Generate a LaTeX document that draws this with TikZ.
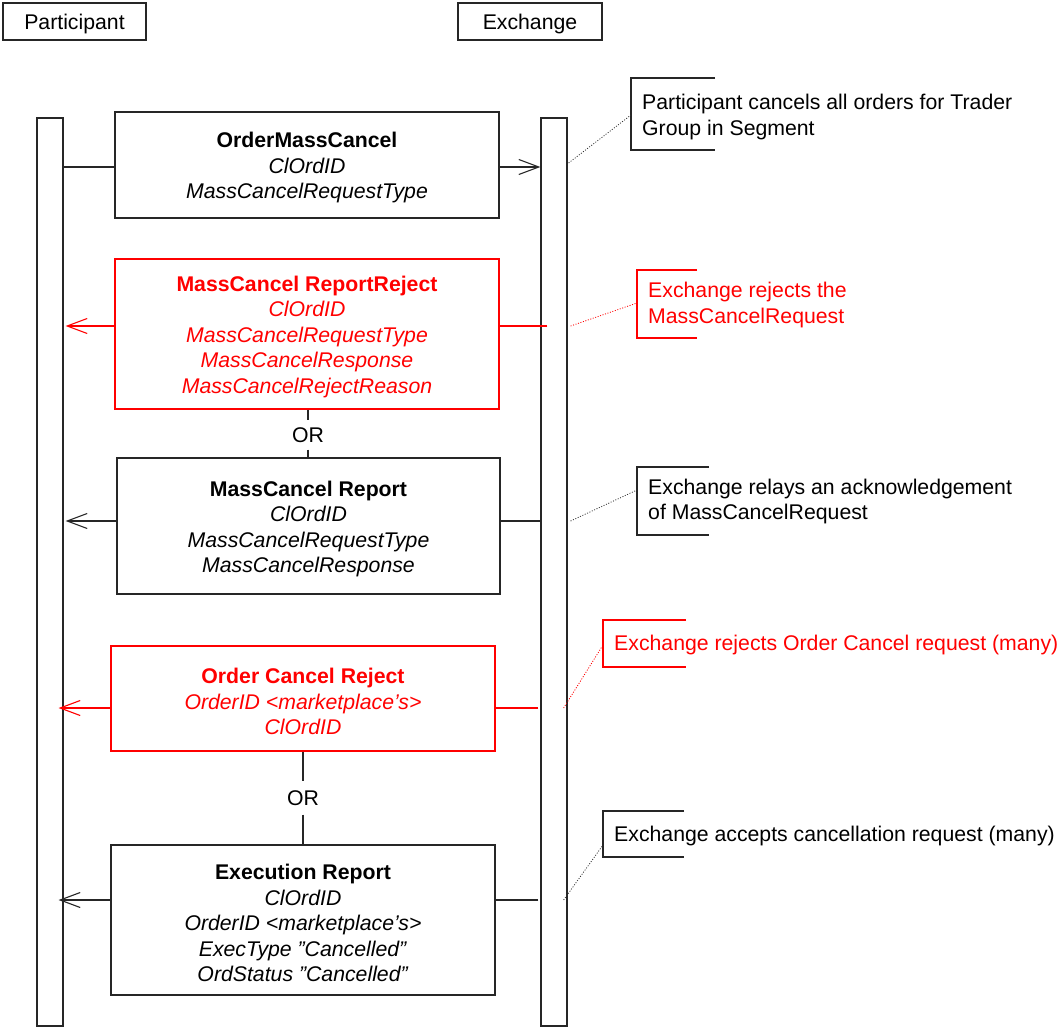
\documentclass[tikz,border=0pt]{standalone}
\usepackage{fontspec}
\setmainfont{Liberation Sans}
\usetikzlibrary{arrows.meta,calc}
\begin{document}
\begin{tikzpicture}[x=1pt,y=-1pt,
  every node/.style={font=\fontsize{21.25}{25.5}\selectfont, inner sep=0pt},
  ln/.style={line width=1.2pt, draw=black!85},
  rln/.style={line width=1.2pt, draw=red},
  hdr/.style={ln, draw, minimum height=37pt},
  life/.style={ln, draw, minimum width=26pt, minimum height=908pt},
  msg/.style={ln, draw, minimum width=384pt},
  rmsg/.style={rln, draw, minimum width=384pt},
  body/.style={align=center, yshift=-3pt},
  rbody/.style={body, text=red},
  ortext/.style={inner ysep=7pt},
  note/.style={align=left, anchor=west},
  opentip/.style={-{Straight Barb[length=20pt,width=15pt,line width=1.1pt]}},
  link/.style={line width=0.8pt, dash pattern=on 1pt off 1.6pt}
]
\useasboundingbox (0,0) rectangle (1059,1027);

% actors
\node[hdr, minimum width=143pt] (phead) at (74.5,21.5) {};
\node[body] (pname) at (phead) {Participant};
\node[hdr, minimum width=144pt] (ehead) at (530,21.5) {};
\node[body] (ename) at (ehead) {Exchange};

% lifelines
\node[life] (plife) at (50,572) {};
\node[life] (elife) at (554,572) {};

% messages
\node[msg, minimum height=106pt] (m1) at (307,165) {};
\node[body] (t1) at (m1)
  {\textbf{OrderMassCancel}\\\textit{ClOrdID}\\\textit{MassCancelRequestType}};
\node[rmsg, minimum height=150pt] (m2) at (307,334) {};
\node[rbody] (t2) at (m2)
  {\textbf{MassCancel ReportReject}\\\textit{ClOrdID}\\\textit{MassCancelRequestType}\\\textit{MassCancelResponse}\\\textit{MassCancelRejectReason}};
\node[msg, minimum width=383pt, minimum height=136pt] (m3) at (308.5,526) {};
\node[body] (t3) at (m3)
  {\textbf{MassCancel Report}\\\textit{ClOrdID}\\\textit{MassCancelRequestType}\\\textit{MassCancelResponse}};
\node[rmsg, minimum height=105pt] (m4) at (303,698.5) {};
\node[rbody] (t4) at (m4)
  {\textbf{Order Cancel Reject}\\\textit{OrderID <marketplace’s>}\\\textit{ClOrdID}};
\node[msg, minimum height=150pt] (m5) at (303,920) {};
\node[body] (t5) at (m5)
  {\textbf{Execution Report}\\\textit{ClOrdID}\\\textit{OrderID <marketplace’s>}\\\textit{ExecType ”Cancelled”}\\\textit{OrdStatus ”Cancelled”}};

% alternatives
\node[ortext] (or1) at (308,435) {OR};
\node[ortext, inner ysep=9pt] (or2) at (303,798) {OR};
\draw[ln] (m2.south -| or1) -- (or1.north);
\draw[ln] (or1.south) -- (m3.north -| or1);
\draw[ln] (m4.south -| or2) -- (or2.north);
\draw[ln] (or2.south) -- (m5.north -| or2);

% message connectors
\coordinate (y1) at (0,167);
\coordinate (y2) at (0,326);
\coordinate (y3) at (0,521);
\coordinate (y4) at (0,708);
\coordinate (y5) at (0,900);

\draw[ln] (plife.east |- y1) -- (m1.west |- y1);
\draw[ln, opentip] (m1.east |- y1) -- (elife.west |- y1);

\draw[rln] ($(elife.west |- y2)+(7,0)$) -- (m2.east |- y2);
\draw[rln, opentip] (m2.west |- y2) -- ($(plife.east |- y2)+(2,0)$);

\draw[ln] (elife.west |- y3) -- (m3.east |- y3);
\draw[ln, opentip] (m3.west |- y3) -- ($(plife.east |- y3)+(2,0)$);

\draw[rln] ($(elife.west |- y4)+(-2,0)$) -- (m4.east |- y4);
\draw[rln, opentip] (m4.west |- y4) -- ($(plife.east |- y4)+(-5,0)$);

\draw[ln] ($(elife.west |- y5)+(-2,0)$) -- (m5.east |- y5);
\draw[ln, opentip] (m5.west |- y5) -- ($(plife.east |- y5)+(-5,0)$);

% notes
\node[note] (n1) at (642,117) {Participant cancels all orders for Trader\\Group in Segment};
\node[note, text=red] (n2) at (648,305) {Exchange rejects the\\MassCancelRequest};
\node[note] (n3) at (648,501.5) {Exchange relays an acknowledgement\\of MassCancelRequest};
\node[note, text=red] (n4) at (614,644.5) {Exchange rejects Order Cancel request (many)};
\node[note] (n5) at (614,835.5) {Exchange accepts cancellation request (many)};

% note brackets
\draw[ln] (715,78) -- (631,78) -- (631,150) -- (715,150);
\draw[rln] (697,270) -- (637,270) -- (637,338) -- (697,338);
\draw[ln] (709,467) -- (637,467) -- (637,535) -- (709,535);
\draw[rln] (686,620) -- (603,620) -- (603,667) -- (686,667);
\draw[ln] (684,811) -- (603,811) -- (603,857) -- (684,857);

\coordinate (a1) at (631,115);
\coordinate (a2) at (637,303);
\coordinate (a3) at (637,490);
\coordinate (a4) at (603,645);
\coordinate (a5) at (603,845);

% note links
\draw[link, black!80] ($(elife.east |- 0,163)+(1,0)$) -- (a1);
\draw[link, red] ($(elife.east |- y2)+(3,0)$) -- (a2);
\draw[link, black!80] ($(elife.east |- y3)+(3,0)$) -- (a3);
\draw[link, red] ($(elife.east |- y4)+(-4,0)$) -- (a4);
\draw[link, black!80] ($(elife.east |- y5)+(-4,0)$) -- (a5);
\end{tikzpicture}
\end{document}
